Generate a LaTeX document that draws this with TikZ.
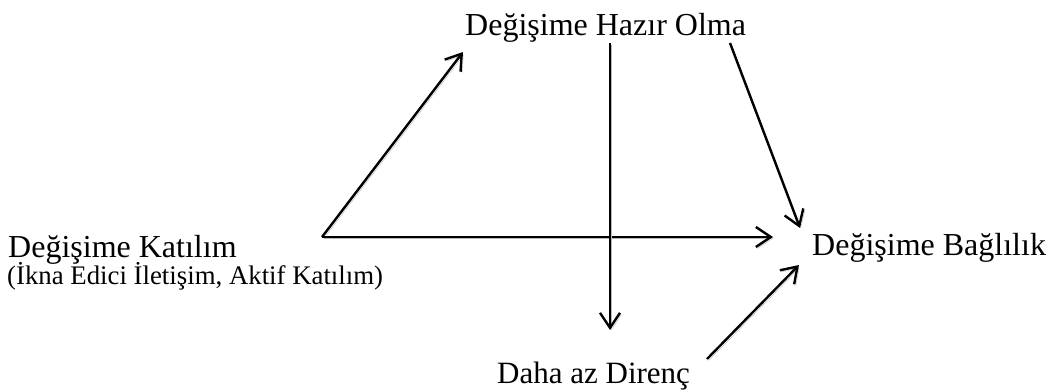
\documentclass[tikz,border=0pt]{standalone}
\usepackage{fontspec}
\setmainfont{Liberation Serif}
\usetikzlibrary{arrows.meta}
\tikzset{
  lab/.style={inner sep=0pt, anchor=base west, font=\fontsize{32}{38}\selectfont},
  sublab/.style={inner sep=0pt, anchor=base west, font=\fontsize{26.8}{32}\selectfont},
  arr/.style={line width=2.4pt, -{Straight Barb[length=15pt,width=20pt]},
    preaction={draw=black!28, transform canvas={shift={(1.6pt,-1.6pt)}}}}
}
\begin{document}
\begin{tikzpicture}[x=1pt,y=-1pt]
\useasboundingbox (0,0) rectangle (1051,391);
\node[lab] (hazir) at (465,35) {Değişime Hazır Olma};
\node[lab] (katilim) at (8,257) {Değişime Katılım};
\node[sublab] (sub) at (7,284) {(İkna Edici İletişim, Aktif Katılım)};
\node[lab] (baglilik) at (812,255) {Değişime Bağlılık};
\node[lab, font=\fontsize{31}{37}\selectfont] (direnc) at (497,383) {Daha az Direnç};
\coordinate (k0) at (322,237);
\coordinate (hL) at (463,52);
\coordinate (hM) at (610,43);
\coordinate (hR) at (730,43);
\coordinate (dT) at (610,330);
\coordinate (bTop) at (800,228);
\coordinate (bL) at (773,237);
\coordinate (dR) at (707,359);
\coordinate (bBot) at (799,265);
\draw[arr] (k0) -- (hL);
\draw[arr] (k0) -- (bL);
\draw[arr] (hM) -- (dT);
\draw[arr] (hR) -- (bTop);
\draw[arr] (dR) -- (bBot);
\end{tikzpicture}
\end{document}
